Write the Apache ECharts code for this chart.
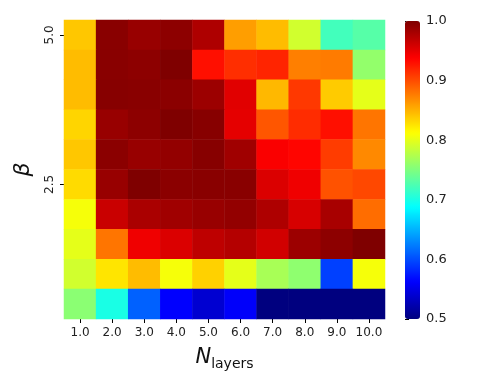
<!DOCTYPE html>
<html>
<head>
<meta charset="utf-8">
<script src="https://cdn.jsdelivr.net/npm/echarts@6/dist/echarts.min.js"></script>
<style>
  html, body { margin: 0; padding: 0; background: #fff; }
  #chart { width: 480px; height: 384px; }
</style>
</head>
<body>
<div id="chart"></div>
<script>
  // x categories (number of layers)
  const layers = ['1.0', '2.0', '3.0', '4.0', '5.0', '6.0', '7.0', '8.0', '9.0', '10.0'];
  // y categories (beta), bottom to top
  const betas = ['0.5', '1.0', '1.5', '2.0', '2.5', '3.0', '3.5', '4.0', '4.5', '5.0'];
  const betaLabels = ['5.0', '2.5'];

  // score rows, top row (beta 5.0) first
  const row50 = [0.840, 0.995, 0.988, 0.993, 0.977, 0.860, 0.845, 0.790, 0.720, 0.730];
  const row45 = [0.845, 0.995, 0.993, 1.000, 0.930, 0.915, 0.920, 0.875, 0.877, 0.760];
  const row40 = [0.845, 0.996, 0.995, 0.994, 0.986, 0.952, 0.847, 0.910, 0.838, 0.800];
  const row35 = [0.833, 0.988, 0.993, 1.000, 0.996, 0.950, 0.895, 0.916, 0.930, 0.880];
  const row30 = [0.840, 0.994, 0.988, 0.990, 0.996, 0.984, 0.940, 0.935, 0.908, 0.870];
  const row25 = [0.830, 0.988, 1.000, 0.994, 0.995, 0.995, 0.955, 0.945, 0.897, 0.902];
  const row20 = [0.808, 0.964, 0.979, 0.984, 0.988, 0.990, 0.977, 0.957, 0.980, 0.884];
  const row15 = [0.800, 0.880, 0.945, 0.955, 0.969, 0.974, 0.960, 0.986, 0.993, 1.000];
  const row10 = [0.790, 0.825, 0.845, 0.808, 0.835, 0.800, 0.770, 0.758, 0.594, 0.808];
  const row05 = [0.756, 0.700, 0.610, 0.562, 0.540, 0.560, 0.500, 0.500, 0.500, 0.500];

  const rowsTopDown = [row50, row45, row40, row35, row30, row25, row20, row15, row10, row05];

  const data = [];
  rowsTopDown.forEach((row, r) => {
    const yi = betas.length - 1 - r;
    row.forEach((v, xi) => data.push([xi, yi, v]));
  });

  // jet colormap
  const jet = ['#00007f', '#0000ff', '#007fff', '#00ffff', '#7fff7f',
               '#ffff00', '#ff7f00', '#ff0000', '#7f0000'];

  const chart = echarts.init(document.getElementById('chart'));
  chart.setOption({
    animation: false,
    textStyle: { fontFamily: 'DejaVu Sans' },
    grid: [
      { left: 64, top: 20, width: 321, height: 299 },
      { left: 405, top: 21, width: 15, height: 298 }
    ],
    xAxis: [
      {
        type: 'category',
        gridIndex: 0,
        data: layers,
        axisLine: { show: false },
        axisTick: { show: true, length: 4, interval: 0, lineStyle: { color: '#000' }, alignWithLabel: true },
        axisLabel: { color: '#222', fontSize: 12, margin: 8, interval: 0, hideOverlap: false },
        splitLine: { show: false },
        name: '{n|N}{s|layers}',
        nameLocation: 'middle',
        nameGap: 26,
        nameTextStyle: {
          rich: {
            n: { fontSize: 21, fontStyle: 'italic', color: '#111', fontFamily: 'DejaVu Sans' },
            s: { fontSize: 14, color: '#111', fontFamily: 'DejaVu Sans', padding: [12, 0, 0, 0] }
          }
        }
      },
      { type: 'value', gridIndex: 1, show: false, min: 0, max: 1 }
    ],
    yAxis: [
      {
        type: 'category',
        gridIndex: 0,
        data: betas,
        axisLine: { show: false },
        axisTick: {
          show: true, length: 4, lineStyle: { color: '#000' }, alignWithLabel: true,
          interval: (i, v) => betaLabels.includes(v)
        },
        axisLabel: {
          color: '#222', fontSize: 12, rotate: 90, margin: 8,
          interval: (i, v) => betaLabels.includes(v)
        },
        name: 'β',
        nameLocation: 'middle',
        nameGap: 30,
        nameRotate: 90,
        nameTextStyle: { fontSize: 22, fontStyle: 'italic', color: '#111' }
      },
      {
        type: 'value',
        gridIndex: 1,
        position: 'right',
        min: 0.5,
        max: 1.0,
        interval: 0.1,
        axisLine: { show: false },
        axisTick: { show: true, length: 4, lineStyle: { color: '#000' } },
        axisLabel: { color: '#222', fontSize: 13, margin: 6, formatter: v => v.toFixed(1) },
        splitLine: { show: false }
      }
    ],
    visualMap: {
      type: 'continuous',
      seriesIndex: 0,
      min: 0.5,
      max: 1.0,
      calculable: false,
      hoverLink: false,
      left: 405,
      top: 21,
      padding: 0,
      itemWidth: 15,
      itemHeight: 298,
      text: null,
      inRange: { color: jet }
    },
    series: [
      {
        type: 'heatmap',
        xAxisIndex: 0,
        yAxisIndex: 0,
        data: data,
        itemStyle: { borderWidth: 0 }
      }
    ]
  });
</script>
</body>
</html>
